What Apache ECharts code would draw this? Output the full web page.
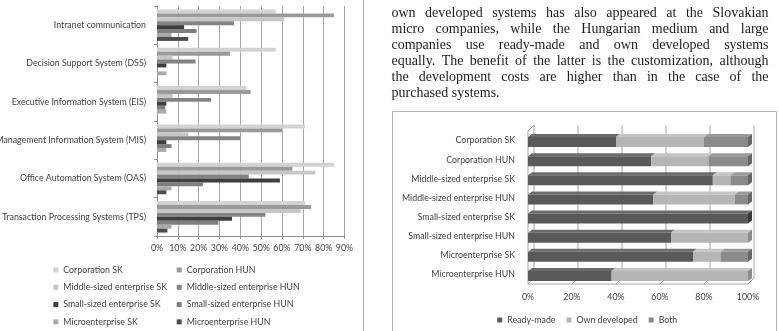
<!DOCTYPE html>
<html><head><meta charset="utf-8">
<script src="https://cdn.jsdelivr.net/npm/echarts@6/dist/echarts.min.js"></script>
<style>html,body{margin:0;padding:0;background:#fff;}#c{width:779px;height:331px;}</style>
</head><body><div id="c"></div>
<script>
// ---------- data: left chart ----------
const leftCategories = ['Intranet communication','Decision Support System (DSS)','Executive Information System (EIS)','Management Information System (MIS)','Office Automation System (OAS)','Transaction Processing Systems (TPS)'];
const leftSeriesNames = ['Corporation SK','Corporation HUN','Middle-sized enterprise SK','Middle-sized enterprise HUN','Small-sized enterprise SK','Small-sized enterprise HUN','Microenterprise SK','Microenterprise HUN'];
const corporationSK  = [57, 57, 43, 71, 85, 71];
const corporationHUN = [85, 35, 45, 60, 65, 74];
const middleSK       = [61, 7.5, 7.5, 15, 76, 69];
const middleHUN      = [37, 18.5, 26, 40, 44, 52];
const smallSK        = [13, 4.5, 4.5, 4.5, 59, 36];
const smallHUN       = [19, 0, 4, 7, 22, 29.5];
const microSK        = [7, 4.5, 4.5, 4.5, 7, 7];
const microHUN       = [15, 0, 0, 0, 4.5, 5];
const leftTicks = [0,10,20,30,40,50,60,70,80,90];

// ---------- data: right chart ----------
const rightCategories = ['Corporation SK','Corporation HUN','Middle-sized enterprise SK','Middle-sized enterprise HUN','Small-sized enterprise SK','Small-sized enterprise HUN','Microenterprise SK','Microenterprise HUN'];
const rightSeriesNames = ['Ready-made','Own developed','Both'];
const readyMade    = [40, 56, 84, 57, 100, 65, 75, 38];
const ownDeveloped = [40, 26, 8, 37, 0, 35, 12.5, 62];
const both         = [20, 18, 8, 6, 0, 0, 12.5, 0];
const rightTicks = [0,20,40,60,80,100];

// ---------- text ----------
const paragraphLines = [
  'own developed systems has also appeared at the Slovakian',
  'micro companies, while the Hungarian medium and large',
  'companies use ready-made and own developed systems',
  'equally. The benefit of the latter is the customization, although',
  'the development costs are higher than in the case of the',
  'purchased systems.'
];

// ---------- styles ----------
const leftValues = [corporationSK, corporationHUN, middleSK, middleHUN, smallSK, smallHUN, microSK, microHUN];
const leftColors = ['#d2d2d2','#9a9a9a','#c6c6c6','#838383','#3e3e3e','#7e7e7e','#a9a9a9','#4c4c4c'];
const rightFront = ['#595959','#b5b5b5','#8a8a8a'];
const rightTop   = ['#6c6c6c','#c4c4c4','#9a9a9a'];
const rightSide  = ['#3a3a3a','#8a8a8a','#666666'];
const FONT = 'Lato';
const FS = 8.8;
const serif = '14px "Liberation Serif"';

const chart = echarts.init(document.getElementById('c'));

// justified paragraph
const cv = document.createElement('canvas').getContext('2d');
cv.font = serif;
const PX0 = 391.5, PX1 = 768.5;
const graphics = [];
paragraphLines.forEach((line, li) => {
  const y = 13.5 + li * 16;
  const words = line.split(' ');
  const isLast = li === paragraphLines.length - 1;
  const widths = words.map(w => cv.measureText(w).width);
  const total = widths.reduce((a, b) => a + b, 0);
  const gap = isLast ? cv.measureText(' ').width : (PX1 - PX0 - total) / (words.length - 1);
  let x = PX0;
  words.forEach((w, i) => {
    graphics.push({type: 'text', x: x, y: y, silent: true,
      style: {text: w, font: serif, fill: '#1c1c1c', verticalAlign: 'middle'}});
    x += widths[i] + gap;
  });
});
// panel borders
graphics.push({type: 'line', silent: true, shape: {x1: 363.5, y1: 0, x2: 363.5, y2: 331}, style: {stroke: '#a8a8a8', lineWidth: 1}});
graphics.push({type: 'rect', silent: true, shape: {x: 392.5, y: 111.5, width: 384, height: 240}, style: {stroke: '#b4b4b4', fill: null, lineWidth: 1}});

// right chart stacking
const rightData = [readyMade, ownDeveloped, both];
const lastIdx = rightCategories.map((_, c) => {
  let l = 0;
  rightData.forEach((arr, s) => { if (arr[c] > 0) l = s; });
  return l;
});
const DX = 6, DY = 6;
function barRender(s) {
  return function (params, api) {
    const v = api.value(0), idx = api.value(1), start = api.value(2), isLast = api.value(3);
    if (!(v > 0)) return;
    const a = api.coord([start, idx]), b = api.coord([start + v, idx]);
    const h = 10, dx = 4, dy = 3;
    const yc = a[1] + 1.5;
    const y0 = yc - h / 2, y1 = yc + h / 2;
    const ch = [
      {type: 'polygon', shape: {points: [[a[0], y0], [b[0], y0], [b[0] + dx, y0 - dy], [a[0] + dx, y0 - dy]]}, style: {fill: rightTop[s]}},
      {type: 'rect', shape: {x: a[0], y: y0, width: b[0] - a[0], height: h}, style: {fill: rightFront[s]}}
    ];
    if (isLast) ch.push({type: 'polygon', shape: {points: [[b[0], y0], [b[0] + dx, y0 - dy], [b[0] + dx, y1 - dy], [b[0], y1]]}, style: {fill: rightSide[s]}});
    return {type: 'group', children: ch};
  };
}
const rightSeries = rightSeriesNames.map((name, s) => ({
  type: 'custom', name: name, xAxisIndex: 1, yAxisIndex: 1, silent: true, z: 5,
  itemStyle: {color: rightFront[s]},
  renderItem: barRender(s),
  encode: {x: 0, y: 1},
  data: rightCategories.map((_, c) => {
    let start = 0;
    for (let k = 0; k < s; k++) start += rightData[k][c];
    return [rightData[s][c], c, start, lastIdx[c] === s ? 1 : 0];
  })
}));
const frameSeries = {
  type: 'custom', name: 'frame', xAxisIndex: 1, yAxisIndex: 1, silent: true, z: 2,
  encode: {x: 0, y: 1},
  data: rightTicks.map(t => [t, 0]),
  renderItem: function (params, api) {
    const t = api.value(0);
    const band = api.size([0, 1])[1];
    const top = api.coord([0, 0])[1] - band / 2;
    const bottom = api.coord([0, rightCategories.length - 1])[1] + band / 2;
    const x = api.coord([t, 0])[0];
    const st = {stroke: '#a4a4a4', lineWidth: 1};
    const ch = [
      {type: 'line', shape: {x1: x + DX, y1: top - DY, x2: x + DX, y2: bottom - DY}, style: st},
      {type: 'line', shape: {x1: x, y1: bottom, x2: x + DX, y2: bottom - DY}, style: st}
    ];
    if (t === rightTicks[0]) {
      const xe = api.coord([rightTicks[rightTicks.length - 1], 0])[0];
      ch.push({type: 'line', shape: {x1: x, y1: bottom, x2: xe, y2: bottom}, style: st});
      ch.push({type: 'line', shape: {x1: x, y1: top, x2: x, y2: bottom}, style: st});
      ch.push({type: 'line', shape: {x1: x, y1: top, x2: x + DX, y2: top - DY}, style: st});
    }
    return {type: 'group', children: ch};
  }
};

const leftSeries = leftSeriesNames.map((name, i) => ({
  type: 'bar', name: name, xAxisIndex: 0, yAxisIndex: 0, silent: true,
  barGap: '0%', barCategoryGap: '18%',
  itemStyle: {color: leftColors[i]},
  data: leftValues[i]
}));

const legendText = {fontFamily: FONT, fontSize: FS, color: '#404040', lineHeight: 11};
const legends = leftSeriesNames.map((name, i) => ({
  left: (i % 2 === 0) ? 53.3 : 176.7,
  top: 264.5 + Math.floor(i / 2) * 17.3,
  padding: 0, itemWidth: 5, itemHeight: 5, icon: 'rect',
  data: [name], textStyle: legendText, selectedMode: false
}));
legends.push({orient: 'horizontal', left: 497.3, top: 314.5, padding: 0, itemWidth: 5, itemHeight: 5, itemGap: 11, icon: 'rect',
  data: rightSeriesNames, textStyle: legendText, selectedMode: false});

chart.setOption({
  backgroundColor: '#fff',
  animation: false,
  graphic: graphics,
  grid: [
    {left: 157, top: 6, width: 187.5, height: 230, outerBoundsMode: 'none', containLabel: false},
    {left: 528, top: 131, width: 220, height: 153, outerBoundsMode: 'none', containLabel: false}
  ],
  xAxis: [
    {type: 'value', gridIndex: 0, min: leftTicks[0], max: leftTicks[leftTicks.length - 1], interval: 10,
     axisLine: {show: true, lineStyle: {color: '#8c8c8c'}},
     axisTick: {show: true, length: 3, lineStyle: {color: '#8c8c8c'}},
     splitLine: {show: true, lineStyle: {color: '#a8a8a8', width: 1}},
     axisLabel: {formatter: '{value}%', fontFamily: FONT, fontSize: FS, color: '#404040', margin: 8, hideOverlap: false}},
    {type: 'value', gridIndex: 1, min: rightTicks[0], max: rightTicks[rightTicks.length - 1], interval: 20,
     axisLine: {show: false}, axisTick: {show: false}, splitLine: {show: false},
     axisLabel: {formatter: '{value}%', fontFamily: FONT, fontSize: FS, color: '#404040', margin: 9}}
  ],
  yAxis: [
    {type: 'category', gridIndex: 0, inverse: true, data: leftCategories,
     axisLine: {show: true, lineStyle: {color: '#8c8c8c'}},
     axisTick: {show: true, length: 3, lineStyle: {color: '#8c8c8c'}},
     axisLabel: {fontFamily: FONT, fontSize: FS, color: '#404040', margin: 11, interval: 0}},
    {type: 'category', gridIndex: 1, inverse: true, data: rightCategories,
     axisLine: {show: false}, axisTick: {show: false},
     axisLabel: {fontFamily: FONT, fontSize: FS, color: '#404040', margin: 13, interval: 0}}
  ],
  legend: legends,
  series: leftSeries.concat([frameSeries]).concat(rightSeries)
});
</script></body></html>
